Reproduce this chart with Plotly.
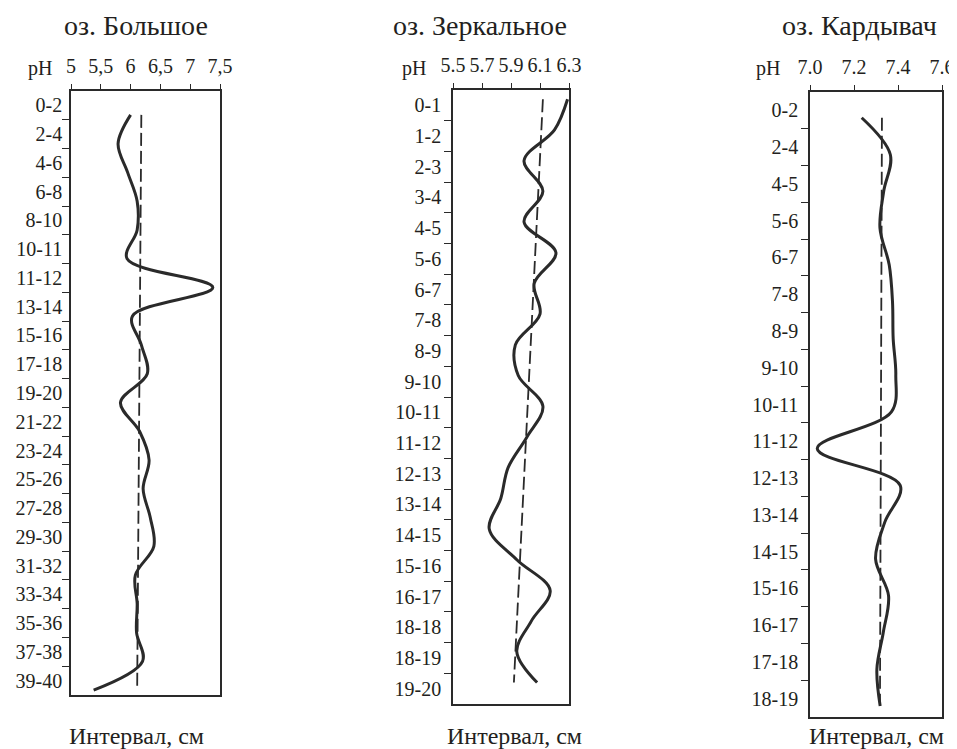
import plotly.graph_objects as go

# ---------------- data ----------------
BOL_TITLE = "оз. Большое"
BOL_LABELS = ["0-2", "2-4", "4-6", "6-8", "8-10", "10-11", "11-12", "13-14", "15-16",
              "17-18", "19-20", "21-22", "23-24", "25-26", "27-28", "29-30", "31-32",
              "33-34", "35-36", "37-38", "39-40"]
BOL_PH = [6.0, 5.79, 5.95, 6.11, 6.11, 5.94, 7.38, 6.03, 6.18, 6.28, 5.83, 6.15,
          6.31, 6.21, 6.33, 6.39, 6.08, 6.11, 6.10, 6.2, 5.38]
BOL_TREND = [6.18, 6.11]
BOL_TICKS = [5, 5.5, 6, 6.5, 7, 7.5]
BOL_TICKTEXT = ["5", "5,5", "6", "6,5", "7", "7,5"]

ZER_TITLE = "оз. Зеркальное"
ZER_LABELS = ["0-1", "1-2", "2-3", "3-4", "4-5", "5-6", "6-7", "7-8", "8-9", "9-10",
              "10-11", "11-12", "12-13", "13-14", "14-15", "15-16", "16-17", "18-18",
              "18-19", "19-20"]
ZER_PH = [6.29, 6.2, 5.99, 6.12, 5.99, 6.21, 6.06, 6.1, 5.93, 5.95, 6.12, 6.01,
          5.88, 5.83, 5.75, 5.94, 6.17, 6.04, 5.94, 6.08]
ZER_TREND = [6.12, 5.92]
ZER_TICKS = [5.5, 5.7, 5.9, 6.1, 6.3]
ZER_TICKTEXT = ["5.5", "5.7", "5.9", "6.1", "6.3"]

KAR_TITLE = "оз. Кардывач"
KAR_LABELS = ["0-2", "2-4", "4-5", "5-6", "6-7", "7-8", "8-9", "9-10", "10-11",
              "11-12", "12-13", "13-14", "14-15", "15-16", "16-17", "17-18", "18-19"]
KAR_PH = [7.235, 7.365, 7.335, 7.318, 7.36, 7.375, 7.378, 7.39, 7.37, 7.033, 7.41,
          7.34, 7.298, 7.357, 7.333, 7.304, 7.319]
KAR_TREND = [7.327, 7.318]
KAR_TICKS = [7.0, 7.2, 7.4, 7.6]
KAR_TICKTEXT = ["7.0", "7.2", "7.4", "7.6"]

X_LABEL = "pH"
Y_LABEL = "Интервал, см"

# ---------------- style / layout ----------------
W, H = 957, 749
OFF = 8  # page body margin
FONT = "Liberation Serif"
TXT = "#231F20"
LINE = "#2A2A2A"

def px(x):
    return (x - OFF) / W

def py(y):
    return 1 - (y - OFF) / H

panels = [
    dict(title=BOL_TITLE, labels=BOL_LABELS, ph=BOL_PH, trend=BOL_TREND,
         ticks=BOL_TICKS, ticktext=BOL_TICKTEXT, xr=[5, 7.5],
         box=(71, 220, 91, 695), shift=0.33, title_x=136, ph_x=40, ylab_x=136,
         ystand=3),
    dict(title=ZER_TITLE, labels=ZER_LABELS, ph=ZER_PH, trend=ZER_TREND,
         ticks=ZER_TICKS, ticktext=ZER_TICKTEXT, xr=[5.5, 6.3],
         box=(453, 569, 90, 704), shift=-0.2, title_x=480, ph_x=414, ylab_x=514,
         ystand=6),
    dict(title=KAR_TITLE, labels=KAR_LABELS, ph=KAR_PH, trend=KAR_TREND,
         ticks=KAR_TICKS, ticktext=KAR_TICKTEXT, xr=[7.0, 7.6],
         box=(810, 942, 92, 717), shift=0.2, title_x=859, ph_x=768, ylab_x=876,
         ystand=6),
]

fig = go.Figure()
annotations = []

for k, p in enumerate(panels):
    n = len(p["labels"])
    sfx = "" if k == 0 else str(k + 1)
    xa, ya = "x" + sfx, "y" + sfx
    pos = [i + p["shift"] for i in range(n)]

    fig.add_trace(go.Scatter(
        x=p["ph"], y=pos, xaxis=xa, yaxis=ya, mode="lines",
        line=dict(color=LINE, width=3, shape="spline", smoothing=1.0),
        showlegend=False, hoverinfo="skip"))
    fig.add_trace(go.Scatter(
        x=p["trend"], y=[pos[0], pos[-1]], xaxis=xa, yaxis=ya, mode="lines",
        line=dict(color=LINE, width=1.8, dash="13px,5px"),
        showlegend=False, hoverinfo="skip"))

    x0, x1, y0, y1 = p["box"]
    fig.layout["xaxis" + sfx] = dict(
        domain=[px(x0), px(x1)], anchor=ya, side="top", range=p["xr"],
        tickmode="array", tickvals=p["ticks"], ticktext=p["ticktext"],
        ticks="outside", ticklen=5, tickwidth=1.3, tickcolor=LINE,
        showline=True, linecolor=LINE, linewidth=1.5, mirror=True,
        showgrid=False, zeroline=False, ticklabelstandoff=3, automargin=False,
        tickfont=dict(family=FONT, size=20, color=TXT), fixedrange=True)
    fig.layout["yaxis" + sfx] = dict(
        domain=[py(y1), py(y0)], anchor=xa, range=[n - 0.5, -0.5],
        tickmode="array", tickvals=list(range(n)), ticktext=p["labels"],
        ticks="", ticklabelstandoff=p["ystand"], automargin=False,
        minor=dict(tickmode="array", tickvals=[i + 0.5 for i in range(n - 1)],
                   ticks="outside", ticklen=7, tickwidth=1.3, tickcolor=LINE),
        showline=True, linecolor=LINE, linewidth=1.5, mirror=True,
        showgrid=False, zeroline=False,
        tickfont=dict(family=FONT, size=20, color=TXT), fixedrange=True)

    annotations.append(dict(text=p["title"], x=px(p["title_x"]), y=py(25),
                            xref="paper", yref="paper", showarrow=False,
                            xanchor="center", yanchor="middle",
                            font=dict(family=FONT, size=28, color=TXT)))
    annotations.append(dict(text=X_LABEL, x=px(p["ph_x"]), y=py(69),
                            xref="paper", yref="paper", showarrow=False,
                            xanchor="center", yanchor="middle",
                            font=dict(family=FONT, size=20, color=TXT)))
    annotations.append(dict(text=Y_LABEL, x=px(p["ylab_x"]), y=py(736),
                            xref="paper", yref="paper", showarrow=False,
                            xanchor="center", yanchor="middle",
                            font=dict(family=FONT, size=24, color=TXT)))

fig.update_layout(width=W, height=H, margin=dict(l=0, r=0, t=0, b=0, autoexpand=False),
                  paper_bgcolor="white", plot_bgcolor="white",
                  annotations=annotations)

fig.write_html("out.html")
